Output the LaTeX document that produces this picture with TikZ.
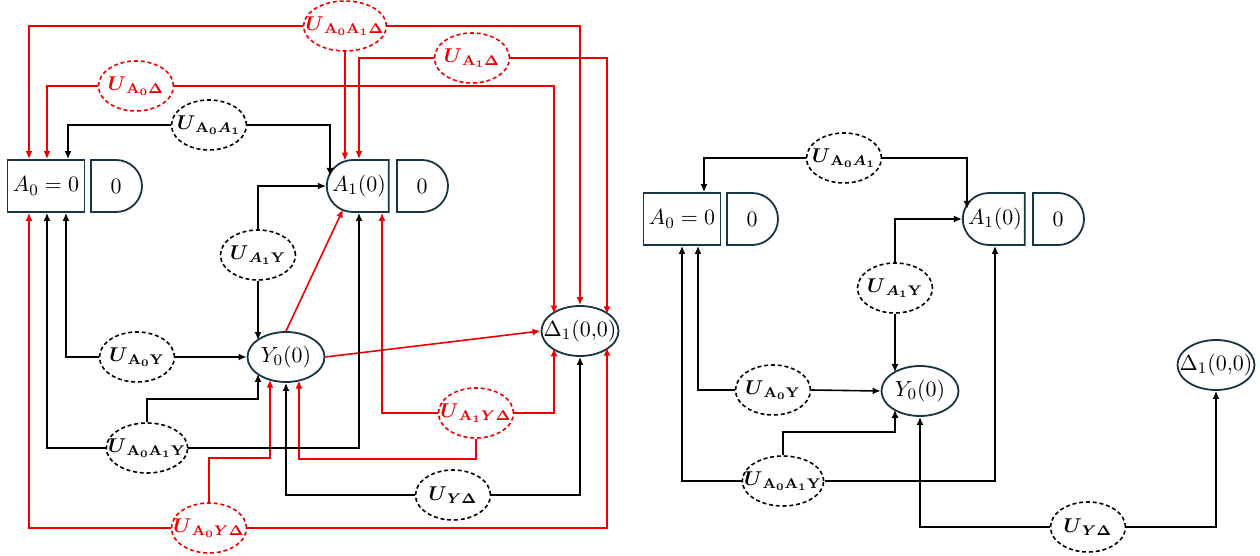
\documentclass[tikz,border=0pt]{standalone}
\usepackage{amsmath}
\usetikzlibrary{arrows.meta,calc,shapes.misc,shapes.geometric}
\definecolor{nodeline}{RGB}{25,52,66}
\definecolor{ured}{RGB}{238,0,0}
\newcommand{\uvar}[1]{$\boldsymbol{U}_{#1}$}
\tikzset{
  box/.style={draw=nodeline, line width=0.9pt, fill=white, minimum height=26pt, inner sep=0pt,
    font=\fontsize{11}{13}\selectfont},
  fixedbox/.style={box, rectangle, minimum width=38.5pt},
  valbox/.style={box, rounded rectangle, rounded rectangle west arc=none, minimum width=24.5pt},
  potbox/.style={box, rounded rectangle, rounded rectangle east arc=none, minimum width=31pt},
  outc/.style={box, ellipse, minimum width=38.5pt, minimum height=25pt, inner xsep=-6pt},
  unode/.style={ellipse, draw=black, line width=0.8pt, dash pattern=on 2pt off 1.4pt, fill=white,
    minimum width=37.5pt, minimum height=25pt, inner xsep=-5pt, inner ysep=0pt},
  redu/.style={unode, draw=ured, text=ured},
  uedge/.style={-{Latex[length=4pt,width=3.5pt]}, line width=0.8pt},
  redge/.style={uedge, draw=ured}
}
\begin{document}
\begin{tikzpicture}[x=0.5pt,y=-0.5pt]
    \useasboundingbox (0,0) rectangle (1260,556);

    % left graph
    \node [fixedbox] (a0) at (46,186) {$A_0=0$};
    \node [valbox] (a0v) at (116,186) {$0$};
    \node [potbox] (a1) at (359,186) {$A_1(0)$};
    \node [valbox] (a1v) at (422,186) {$0$};
    \node [outc] (y0) at (286,357) {$Y_0(0)$};
    \node [outc] (d1) at (580,331) {$\Delta_1(0{,}0)$};

    \node [redu] (uaad) at (345,26) {\uvar{\mathbf{A_0A_1\Delta}}};
    \node [redu] (ua1d) at (472,58) {\uvar{\mathbf{A_1\Delta}}};
    \node [redu] (ua0d) at (136,86) {\uvar{\mathbf{A_0\Delta}}};
    \node [unode] (uaa) at (209,125) {\uvar{\mathbf{A_0}\boldsymbol{A}_{\mathbf{1}}}};
    \node [unode] (ua1y) at (258,255) {\uvar{\boldsymbol{A}_{\mathbf{1}}\mathbf{Y}}};
    \node [unode] (ua0y) at (137,357) {\uvar{\mathbf{A_0Y}}};
    \node [unode] (uaay) at (147,448) {\uvar{\mathbf{A_0A_1Y}}};
    \node [redu] (ua1yd) at (476,413) {\uvar{\mathbf{A_1}\boldsymbol{Y}\mathbf{\Delta}}};
    \node [unode] (uyd) at (453,495) {\uvar{\boldsymbol{Y}\mathbf{\Delta}}};
    \node [redu] (ua0yd) at (209,528) {\uvar{\mathbf{A_0}\boldsymbol{Y}\mathbf{\Delta}}};

    \draw [redge] (uaad.west) -| ($(a0.north)+(-17,0)$);
    \draw [redge] (uaad.east) -| (d1.north);
    \draw [redge] (uaad.south) -- ($(a1.north)+(-14,1.5)$);
    \draw [redge] (ua1d.west) -| (a1.north);
    \draw [redge] (ua1d.east) -| ($(d1.center)+(27,-16.7)$);
    \draw [redge] (ua0d.west) -| ($(a0.north)+(1,0)$);
    \draw [redge] (ua0d.east) -| ($(d1.center)+(-26,-17.3)$);
    \draw [redge] (ua0yd.west) -| ($(a0.south)+(-17,0)$);
    \draw [redge] (ua0yd.east) -| ($(d1.center)+(27,16.7)$);
    \draw [redge] (ua0yd.north) -- ++(0,-44) -| ($(y0.center)+(-16,22.7)$);
    \draw [redge] (ua1yd.west) -| ($(a1.south)+(23,0)$);
    \draw [redge] (ua1yd.east) -| ($(d1.center)+(-26,17.3)$);
    \draw [redge] (ua1yd.south) -- ++(0,20) -| ($(y0.center)+(13,23.5)$);
    \draw [redge] (y0.north) -- ($(a1.center)+(-16,23.5)$);
    \draw [redge] (y0.east) -- (d1.west);

    \draw [uedge] (uaa.west) -| ($(a0.north)+(22,0)$);
    \draw [uedge] (uaa.east) -| ($(a1.center)+(-29,-10)$);
    \draw [uedge] (ua1y.north) |- (a1.west);
    \draw [uedge] (ua1y.south) -- ($(y0.center)+(-28,-16.9)$);
    \draw [uedge] (ua0y.west) -| ($(a0.south)+(20,0)$);
    \draw [uedge] (ua0y.east) -- (y0.west);
    \draw [uedge] (uaay.west) -| ($(a0.south)+(1,0)$);
    \draw [uedge] (uaay.east) -| (a1.south);
    \draw [uedge] (uaay.north) -- ++(0,-23) -| ($(y0.center)+(-28,16.9)$);
    \draw [uedge] (uyd.west) -| (y0.south);
    \draw [uedge] (uyd.east) -| (d1.south);

    % right graph
    \node [fixedbox] (ra0) at (682,219) {$A_0=0$};
    \node [valbox] (ra0v) at (752,219) {$0$};
    \node [potbox] (ra1) at (995,219) {$A_1(0)$};
    \node [valbox] (ra1v) at (1058,219) {$0$};
    \node [outc] (ry0) at (920,391) {$Y_0(0)$};
    \node [outc] (rd1) at (1216,365) {$\Delta_1(0{,}0)$};

    \node [unode] (ruaa) at (844,158) {\uvar{\mathbf{A_0}\boldsymbol{A}_{\mathbf{1}}}};
    \node [unode] (rua1y) at (895,288) {\uvar{\boldsymbol{A}_{\mathbf{1}}\mathbf{Y}}};
    \node [unode] (rua0y) at (773,390) {\uvar{\mathbf{A_0Y}}};
    \node [unode] (ruaay) at (783,481) {\uvar{\mathbf{A_0A_1Y}}};
    \node [unode] (ruyd) at (1088,527) {\uvar{\boldsymbol{Y}\mathbf{\Delta}}};

    \draw [uedge] (ruaa.west) -| ($(ra0.north)+(22,0)$);
    \draw [uedge] (ruaa.east) -| ($(ra1.center)+(-28,-10)$);
    \draw [uedge] (rua1y.north) |- (ra1.west);
    \draw [uedge] (rua1y.south) -- ($(ry0.center)+(-25,-18.8)$);
    \draw [uedge] (rua0y.west) -| ($(ra0.south)+(16,0)$);
    \draw [uedge] (rua0y.east) -- (ry0.west);
    \draw [uedge] (ruaay.west) -| (ra0.south);
    \draw [uedge] (ruaay.east) -| (ra1.south);
    \draw [uedge] (ruaay.north) -- ++(0,-23) -| ($(ry0.center)+(-25,18.8)$);
    \draw [uedge] (ruyd.west) -| (ry0.south);
    \draw [uedge] (ruyd.east) -| (rd1.south);
\end{tikzpicture}
\end{document}
